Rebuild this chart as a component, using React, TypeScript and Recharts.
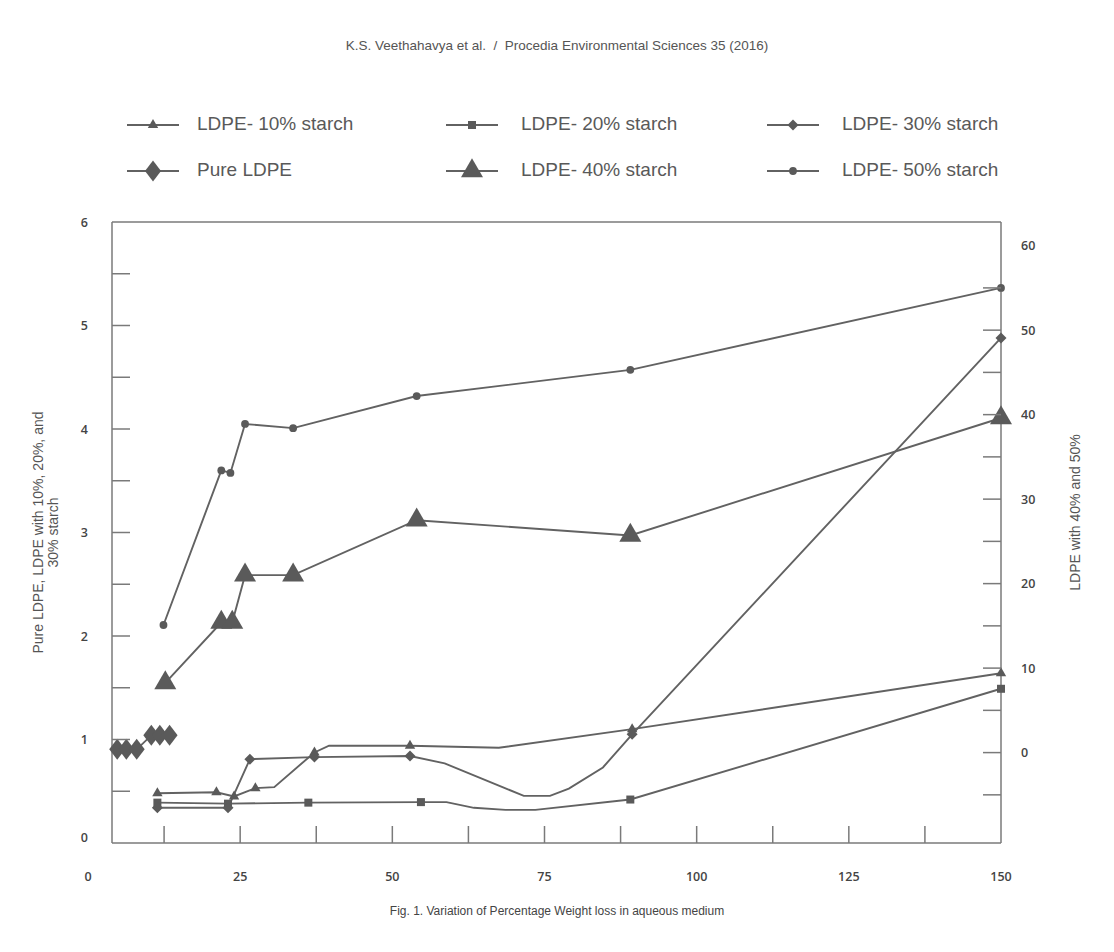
import { LineChart, Line, XAxis, YAxis, Legend, ReferenceLine } from 'recharts';

type Pt = { x: number; y: number; bend?: boolean };

// x: days, left axis: % weight loss (Pure, 10 %, 20 %, 30 %), right axis: 40 % and 50 %
const xTicks = [0, 12.5, 25, 37.5, 50, 62.5, 75, 87.5, 100, 112.5, 125, 137.5, 150];
const leftTicks = [0, 0.5, 1, 1.5, 2, 2.5, 3, 3.5, 4, 4.5, 5, 5.5, 6];
const rightTicks = [-5, 0, 5, 10, 15, 20, 25, 30, 35, 40, 45, 50, 55, 60];

const pureLdpe: Pt[] = [
    { x: 4.8, y: 0.905 }, { x: 6.3, y: 0.905 }, { x: 8.0, y: 0.905 },
    { x: 10.4, y: 1.04 }, { x: 11.8, y: 1.04 }, { x: 13.4, y: 1.04 },
];

const ldpe10: Pt[] = [
    { x: 11.4, y: 0.48 }, { x: 21.1, y: 0.49 }, { x: 24.0, y: 0.45 }, { x: 27.5, y: 0.53 },
    { x: 30.6, y: 0.54, bend: true }, { x: 37.2, y: 0.875 }, { x: 39.6, y: 0.94, bend: true },
    { x: 52.9, y: 0.94 }, { x: 67.5, y: 0.92, bend: true }, { x: 89.4, y: 1.1 }, { x: 150, y: 1.64 },
];

const ldpe20: Pt[] = [
    { x: 11.4, y: 0.39 }, { x: 23.0, y: 0.38 }, { x: 36.2, y: 0.39 }, { x: 54.7, y: 0.395 },
    { x: 58.9, y: 0.395, bend: true }, { x: 63.4, y: 0.34, bend: true }, { x: 68.6, y: 0.32, bend: true },
    { x: 73.5, y: 0.32, bend: true }, { x: 89.1, y: 0.42 }, { x: 150, y: 1.49 },
];

const ldpe30: Pt[] = [
    { x: 11.4, y: 0.34 }, { x: 23.0, y: 0.34 }, { x: 26.6, y: 0.81 }, { x: 37.2, y: 0.83 },
    { x: 52.9, y: 0.84 }, { x: 58.6, y: 0.77, bend: true }, { x: 68.3, y: 0.535, bend: true },
    { x: 71.6, y: 0.455, bend: true }, { x: 75.9, y: 0.455, bend: true }, { x: 79.0, y: 0.525, bend: true },
    { x: 84.6, y: 0.73, bend: true }, { x: 89.4, y: 1.05 }, { x: 150, y: 4.88 },
];

const ldpe40: Pt[] = [
    { x: 12.7, y: 8.25 }, { x: 21.9, y: 15.4 }, { x: 23.7, y: 15.4 }, { x: 25.8, y: 21.0 },
    { x: 33.7, y: 21.0 }, { x: 54.0, y: 27.5 }, { x: 89.1, y: 25.7 }, { x: 150, y: 39.6 },
];

const ldpe50: Pt[] = [
    { x: 12.4, y: 15.1 }, { x: 21.9, y: 33.4 }, { x: 23.4, y: 33.1 }, { x: 25.8, y: 38.9 },
    { x: 33.7, y: 38.4 }, { x: 54.0, y: 42.2 }, { x: 89.1, y: 45.3 }, { x: 150, y: 55 },
];

const series = [
    { name: 'LDPE- 10% starch', data: ldpe10, axis: 'left', shape: 'triSmall' },
    { name: 'LDPE- 20% starch', data: ldpe20, axis: 'left', shape: 'square' },
    { name: 'LDPE- 30% starch', data: ldpe30, axis: 'left', shape: 'diaSmall' },
    { name: 'Pure LDPE', data: pureLdpe, axis: 'left', shape: 'diaLarge' },
    { name: 'LDPE- 40% starch', data: ldpe40, axis: 'right', shape: 'triLarge' },
    { name: 'LDPE- 50% starch', data: ldpe50, axis: 'right', shape: 'circle' },
];

const LINE = '#626262';
const MARK = '#5a5a5a';
const AXIS = '#7a7a7a';
const TICK_FONT = '"Open Sans", sans-serif';
const TEXT_FONT = '"Liberation Sans", Arial, sans-serif';
const TICK_LEN = 18;
const TICK_SIZE = 12.5;

const drawMarker = (shape: string, cx: number, cy: number) => {
    switch (shape) {
        case 'triSmall':
            return <polygon points={`${cx},${cy - 6} ${cx - 5.2},${cy + 3} ${cx + 5.2},${cy + 3}`} fill={MARK} />;
        case 'triLarge':
            return <polygon points={`${cx},${cy - 12.7} ${cx - 11},${cy + 6.3} ${cx + 11},${cy + 6.3}`} fill={MARK} />;
        case 'square':
            return <rect x={cx - 4} y={cy - 4} width={8} height={8} fill={MARK} />;
        case 'diaSmall':
            return <polygon points={`${cx},${cy - 5.5} ${cx + 5.5},${cy} ${cx},${cy + 5.5} ${cx - 5.5},${cy}`} fill={MARK} />;
        case 'diaLarge':
            return <polygon points={`${cx},${cy - 10.5} ${cx + 8},${cy} ${cx},${cy + 10.5} ${cx - 8},${cy}`} fill={MARK} />;
        default:
            return <circle cx={cx} cy={cy} r={3.9} fill={MARK} />;
    }
};

const LeftTick = (props: any) => {
    const { x, y, payload } = props;
    const v = payload.value;
    const major = Number.isInteger(v);
    return (
        <g>
            {v > 0 && v < 6 && (
                <line x1={x + 24} x2={x + 24 + TICK_LEN} y1={y} y2={y} stroke={AXIS} strokeWidth={1.5} />
            )}
            {major && (
                <text x={x} y={y} dy={v === 0 ? -1 : 4.5} textAnchor="end" fontSize={TICK_SIZE} fontWeight={600} fill="#444" fontFamily={TICK_FONT}>
                    {v}
                </text>
            )}
        </g>
    );
};

const RightTick = (props: any) => {
    const { x, y, payload } = props;
    const v = payload.value;
    const labelled = v >= 0 && v % 10 === 0;
    return (
        <g>
            {v < 60 && (
                <line x1={x - 20} x2={x - 20 - TICK_LEN} y1={y} y2={y} stroke={AXIS} strokeWidth={1.5} />
            )}
            {labelled && (
                <text x={x} y={y} dy={4.5} textAnchor="start" fontSize={TICK_SIZE} fontWeight={600} fill="#444" fontFamily={TICK_FONT}>
                    {v}
                </text>
            )}
        </g>
    );
};

const BottomTick = (props: any) => {
    const { x, y, payload } = props;
    const v = payload.value;
    return (
        <g>
            {v > 0 && v < 150 && (
                <line x1={x} x2={x} y1={y} y2={y - 17} stroke={AXIS} strokeWidth={1.5} />
            )}
            {v % 25 === 0 && (
                <text x={x} y={y} dy={37.5} textAnchor="middle" fontSize={TICK_SIZE} fontWeight={600} fill="#444" fontFamily={TICK_FONT}>
                    {v}
                </text>
            )}
        </g>
    );
};

const LeftTitle = (props: any) => {
    const vb = props.viewBox ?? { x: 0, y: 222, width: 112, height: 621 };
    const cx = vb.x + 43;
    const cy = vb.y + vb.height / 2;
    return (
        <text transform={`rotate(-90 ${cx} ${cy})`} x={cx} y={cy} textAnchor="middle" fontSize={14} fill="#555" fontFamily={TEXT_FONT}>
            <tspan x={cx} dy={0}>Pure LDPE, LDPE with 10%, 20%, and</tspan>
            <tspan x={cx} dy={15}>30% starch</tspan>
        </text>
    );
};

const RightTitle = (props: any) => {
    const vb = props.viewBox ?? { x: 1001, y: 222, width: 113, height: 621 };
    const cx = vb.x + 79;
    const cy = vb.y + vb.height / 2 - 20;
    return (
        <text transform={`rotate(-90 ${cx} ${cy})`} x={cx} y={cy} textAnchor="middle" fontSize={14} fill="#555" fontFamily={TEXT_FONT}>
            LDPE with 40% and 50%
        </text>
    );
};

const legendLineX = [127, 446, 767];
const legendTextX = [197, 521, 842];
const legendRowY = [25, 71];

const LegendGrid = () => (
    <div style={{ position: 'relative', width: 1114, height: 122, fontFamily: TEXT_FONT }}>
        {series.map((s, i) => {
            const col = i % 3;
            const row = Math.floor(i / 3);
            const cy = legendRowY[row];
            return (
                <div key={s.name}>
                    <svg
                        width={52}
                        height={30}
                        style={{ position: 'absolute', left: legendLineX[col], top: cy - 15, overflow: 'visible' }}
                    >
                        <line x1={0} x2={52} y1={15} y2={15} stroke={LINE} strokeWidth={2} />
                        {drawMarker(s.shape, 26, 15)}
                    </svg>
                    <span
                        style={{
                            position: 'absolute',
                            left: legendTextX[col],
                            top: cy - 12,
                            fontSize: 19,
                            lineHeight: '22px',
                            color: '#595959',
                            whiteSpace: 'nowrap',
                        }}
                    >
                        {s.name}
                    </span>
                </div>
            );
        })}
    </div>
);

const App = () => {
    return (
        <div style={{ position: 'relative', width: 1114, height: 952, margin: -8, background: '#fff', overflow: 'hidden' }}>
            <LineChart width={1114} height={952} margin={{ top: 100, right: 0, bottom: 69, left: 0 }}>
                <Legend verticalAlign="top" align="left" content={<LegendGrid />} />
                <XAxis
                    type="number"
                    dataKey="x"
                    domain={[0, 150]}
                    ticks={xTicks}
                    interval={0}
                    padding={{ left: -24, right: 0 }}
                    tickSize={0}
                    tickMargin={0}
                    tickLine={false}
                    axisLine={{ stroke: AXIS, strokeWidth: 1.5 }}
                    tick={<BottomTick />}
                    height={40}
                />
                <YAxis
                    yAxisId="left"
                    type="number"
                    domain={[0, 6]}
                    ticks={leftTicks}
                    interval={0}
                    width={112}
                    tickSize={0}
                    tickMargin={24}
                    tickLine={false}
                    axisLine={{ stroke: AXIS, strokeWidth: 1.5 }}
                    tick={<LeftTick />}
                    label={LeftTitle}
                />
                <YAxis
                    yAxisId="right"
                    orientation="right"
                    type="number"
                    domain={[-10.7, 62.8]}
                    ticks={rightTicks}
                    interval={0}
                    width={113}
                    tickSize={0}
                    tickMargin={20}
                    tickLine={false}
                    axisLine={{ stroke: AXIS, strokeWidth: 1.5 }}
                    tick={<RightTick />}
                    label={RightTitle}
                />
                <ReferenceLine yAxisId="left" y={6} stroke={AXIS} strokeWidth={1.5} />
                {series.map((s) => (
                    <Line
                        key={s.name}
                        name={s.name}
                        data={s.data}
                        dataKey="y"
                        yAxisId={s.axis}
                        type="linear"
                        stroke={LINE}
                        strokeWidth={1.9}
                        activeDot={false}
                        isAnimationActive={false}
                        dot={(p: any) => {
                            const key = `${s.name}-${p.index}`;
                            if (p.payload?.bend || p.cx == null || p.cy == null) return <g key={key} />;
                            return <g key={key}>{drawMarker(s.shape, p.cx, p.cy)}</g>;
                        }}
                    />
                ))}
            </LineChart>
            <div
                style={{
                    position: 'absolute',
                    top: 38,
                    left: 0,
                    width: 1114,
                    textAlign: 'center',
                    fontFamily: TEXT_FONT,
                    fontSize: 13.5,
                    color: '#555',
                    whiteSpace: 'pre',
                }}
            >
                {'K.S. Veethahavya et al.  /  Procedia Environmental Sciences 35 (2016)'}
            </div>
            <div
                style={{
                    position: 'absolute',
                    top: 904,
                    left: 0,
                    width: 1114,
                    textAlign: 'center',
                    fontFamily: TEXT_FONT,
                    fontSize: 12,
                    color: '#444',
                }}
            >
                Fig. 1. Variation of Percentage Weight loss in aqueous medium
            </div>
        </div>
    );
};

export default App;
